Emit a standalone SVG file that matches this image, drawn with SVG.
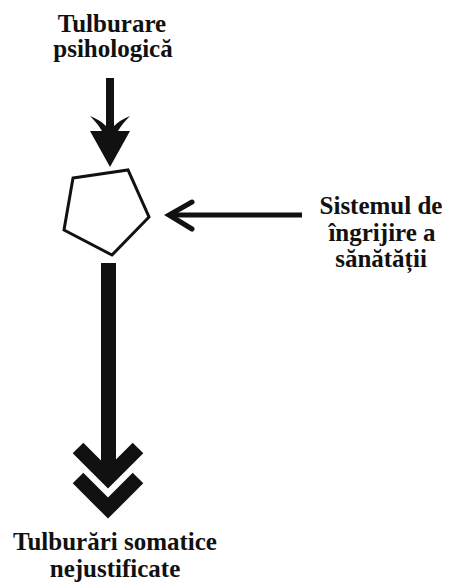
<svg xmlns="http://www.w3.org/2000/svg" width="449" height="582" viewBox="0 0 449 582">
<style>
.t{font-family:"Liberation Serif","Times New Roman","DejaVu Serif",serif;font-weight:bold;font-size:25px;fill:#111;text-anchor:middle}
.shape{fill:none;stroke:#111;stroke-width:3;stroke-linejoin:miter}
</style>
<rect width="449" height="582" fill="#fff"/>
<g id="node-top">
<text class="t" x="112" y="32">Tulburare</text>
<text class="t" x="113" y="57">psihologică</text>
</g>
<g id="node-pentagon">
<polygon class="shape" points="73,178 128,170 149,217 112,255 64,230"/>
</g>
<g id="node-right">
<text class="t" x="381" y="214">Sistemul de</text>
<text class="t" x="382" y="241">îngrijire a</text>
<text class="t" x="381" y="267">sănătății</text>
</g>
<g id="node-bottom">
<text class="t" x="115" y="550">Tulburări somatice</text>
<text class="t" x="115" y="577">nejustificate</text>
</g>
<g id="connectors">
<path d="M106,78 H114 V126 Q120,120 130,116 Q122,124 118,131 Q124,131 130,131 L110,167 L90,131 Q96,131 102,131 Q98,124 90,116 Q100,120 106,126 Z" fill="#111"/>
<line x1="302" y1="215" x2="170" y2="215" stroke="#111" stroke-width="5"/>
<polyline points="192,202 169,215 192,229" fill="none" stroke="#111" stroke-width="5" stroke-linecap="round"/>
<rect x="101" y="263" width="15" height="210" fill="#111"/>
<polyline points="78,448 108,478 138,448" fill="none" stroke="#111" stroke-width="15" stroke-linejoin="miter"/>
<polyline points="78,478 108,508 138,478" fill="none" stroke="#111" stroke-width="15" stroke-linejoin="miter"/>
</g>
</svg>
